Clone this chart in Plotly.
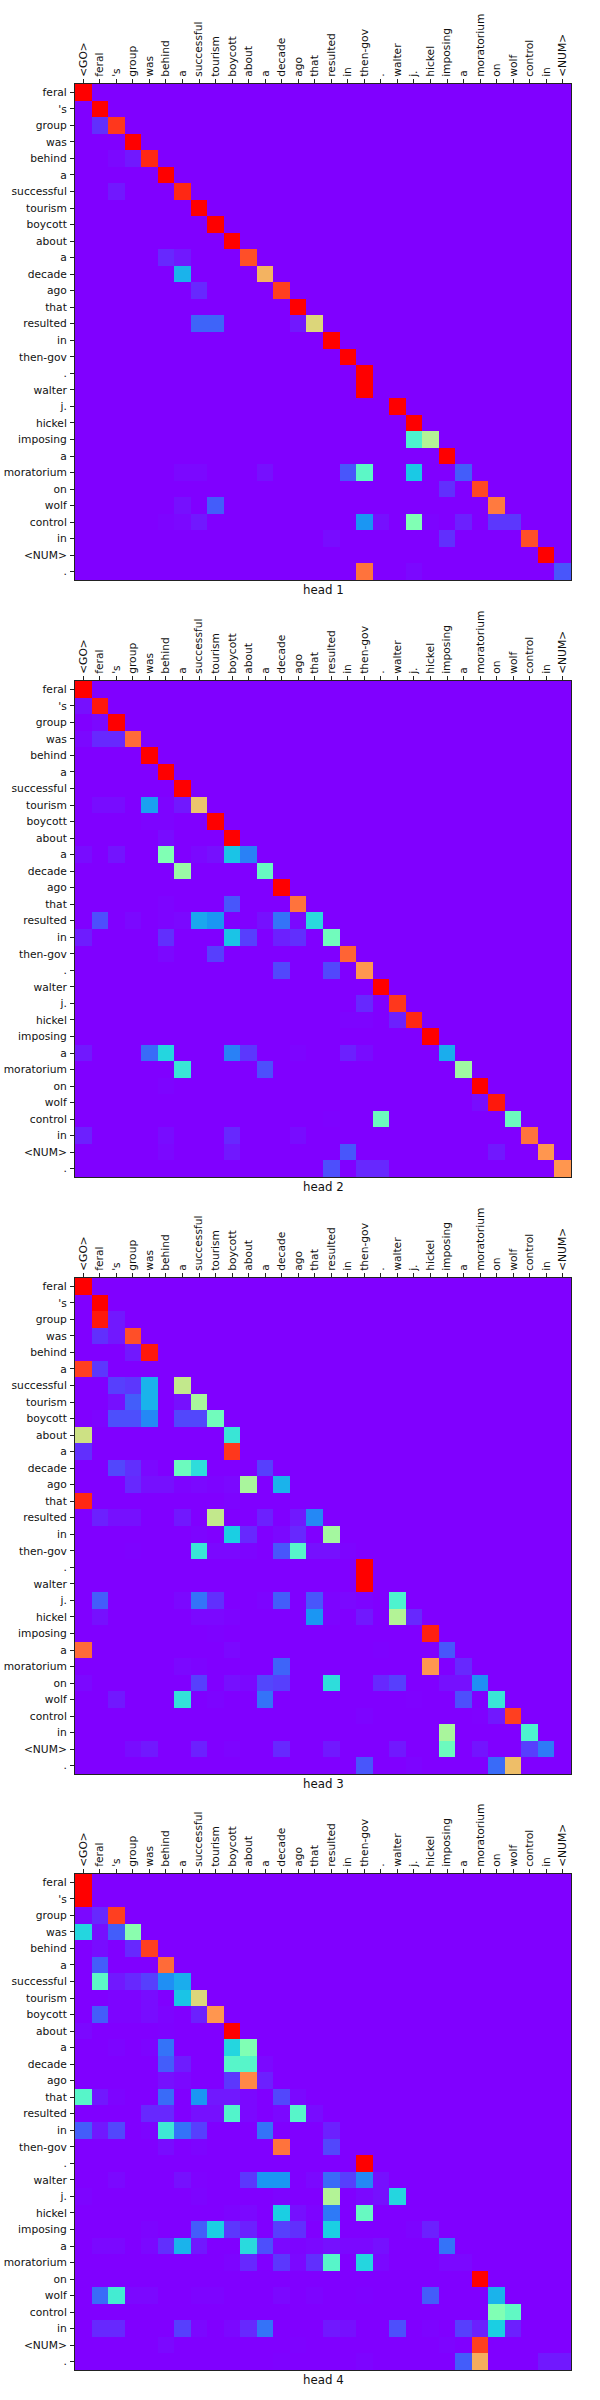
import plotly.graph_objects as go

source_tokens = ["<GO>", "feral", "'s", "group", "was", "behind", "a", "successful", "tourism", "boycott",
                 "about", "a", "decade", "ago", "that", "resulted", "in", "then-gov", ".", "walter",
                 "j.", "hickel", "imposing", "a", "moratorium", "on", "wolf", "control", "in", "<NUM>"]
target_tokens = ["feral", "'s", "group", "was", "behind", "a", "successful", "tourism", "boycott", "about",
                 "a", "decade", "ago", "that", "resulted", "in", "then-gov", ".", "walter", "j.",
                 "hickel", "imposing", "a", "moratorium", "on", "wolf", "control", "in", "<NUM>", "."]

# attention weights: (row, col, weight), everything else is 0
head1_cells = [
    (0, 0, 1), (1, 1, 1), (2, 1, .06), (2, 2, .93), (3, 3, 1), (4, 2, .01), (4, 3, .03), (4, 4, .95),
    (5, 5, 1), (6, 2, .03), (6, 6, .95), (7, 7, 1), (8, 8, 1), (9, 9, 1),
    (10, 5, .05), (10, 6, .03), (10, 10, .9), (11, 6, .25), (11, 11, .75), (12, 7, .05), (12, 12, .92),
    (13, 13, 1), (14, 7, .13), (14, 8, .13), (14, 13, .03), (14, 14, .68), (15, 15, 1), (16, 16, 1),
    (17, 17, 1), (18, 17, 1), (19, 19, 1), (20, 20, 1), (21, 20, .4), (21, 21, .6), (22, 22, 1),
    (23, 6, .01), (23, 7, .01), (23, 11, .02), (23, 16, .11), (23, 17, .43), (23, 20, .29), (23, 23, .12),
    (24, 22, .06), (24, 24, .91), (25, 6, .02), (25, 8, .12), (25, 25, .84),
    (26, 5, .005), (26, 6, .01), (26, 7, .03), (26, 17, .2), (26, 18, .02), (26, 20, .5), (26, 21, .005),
    (26, 23, .04), (26, 25, .07), (26, 26, .07), (27, 15, .015), (27, 22, .06), (27, 27, .9),
    (28, 28, 1), (29, 17, .85), (29, 20, .01), (29, 29, .11),
]
head2_cells = [
    (0, 0, 1), (1, 0, .02), (1, 1, .97), (2, 1, .01), (2, 2, 1), (3, 0, .01), (3, 1, .05), (3, 2, .05),
    (3, 3, .86), (4, 4, 1), (5, 5, 1), (6, 6, 1), (7, 1, .015), (7, 2, .015), (7, 4, .22), (7, 5, .005),
    (7, 6, .03), (7, 7, .72), (8, 4, .005), (8, 5, .005), (8, 8, 1), (9, 5, .015), (9, 9, 1),
    (10, 0, .015), (10, 2, .025), (10, 5, .5), (10, 7, .01), (10, 8, .02), (10, 9, .28), (10, 10, .17),
    (11, 6, .55), (11, 11, .45), (12, 12, 1), (13, 5, .005), (13, 9, .11), (13, 13, .85),
    (14, 1, .1), (14, 3, .01), (14, 5, .005), (14, 6, .01), (14, 7, .23), (14, 8, .2), (14, 11, .02),
    (14, 12, .15), (14, 13, .01), (14, 14, .33), (15, 0, .035), (15, 5, .06), (15, 9, .28), (15, 10, .08),
    (15, 12, .04), (15, 13, .06), (15, 15, .47), (16, 5, .01), (16, 8, .08), (16, 16, .87),
    (17, 12, .09), (17, 15, .09), (17, 17, .8), (18, 18, 1), (19, 17, .05), (19, 19, .93),
    (20, 16, .005), (20, 17, .005), (20, 19, .04), (20, 20, .95), (21, 21, 1),
    (22, 0, .03), (22, 4, .14), (22, 5, .32), (22, 9, .17), (22, 10, .07), (22, 13, .005), (22, 16, .04),
    (22, 17, .015), (22, 22, .24), (23, 6, .36), (23, 11, .1), (23, 23, .56), (24, 5, .005), (24, 24, 1),
    (25, 24, .015), (25, 25, .97), (26, 15, .003), (26, 18, .46), (26, 26, .46),
    (27, 0, .04), (27, 5, .015), (27, 9, .05), (27, 13, .015), (27, 27, .85),
    (28, 5, .01), (28, 9, .03), (28, 16, .11), (28, 25, .03), (28, 28, .8),
    (29, 15, .1), (29, 17, .05), (29, 18, .05), (29, 29, .8),
]
head3_cells = [
    (0, 0, 1), (1, 1, 1), (2, 1, .97), (2, 2, .03), (3, 1, .06), (3, 2, .03), (3, 3, .9), (4, 3, .03),
    (4, 4, .97), (5, 0, .92), (5, 1, .07), (6, 2, .08), (6, 3, .07), (6, 4, .25), (6, 6, .63),
    (7, 2, .02), (7, 3, .12), (7, 4, .25), (7, 6, .02), (7, 7, .58),
    (8, 1, .005), (8, 2, .1), (8, 3, .1), (8, 4, .18), (8, 6, .09), (8, 7, .09), (8, 8, .47),
    (9, 0, .65), (9, 9, .36), (10, 0, .06), (10, 9, .93),
    (11, 2, .09), (11, 3, .06), (11, 4, .01), (11, 6, .46), (11, 7, .34), (11, 11, .08),
    (12, 3, .05), (12, 4, .02), (12, 5, .02), (12, 6, .005), (12, 7, .01), (12, 8, .005), (12, 9, .01),
    (12, 10, .58), (12, 12, .25), (13, 0, .95), (13, 9, .005),
    (14, 1, .04), (14, 2, .02), (14, 3, .02), (14, 6, .03), (14, 8, .63), (14, 11, .04), (14, 13, .03),
    (14, 14, .18), (15, 7, .005), (15, 9, .3), (15, 10, .05), (15, 12, .01), (15, 13, .05), (15, 15, .57),
    (16, 3, .003), (16, 7, .36), (16, 8, .01), (16, 9, .01), (16, 10, .005), (16, 12, .11), (16, 13, .42),
    (16, 14, .02), (16, 15, .02), (16, 16, .005), (17, 17, 1), (18, 17, 1),
    (19, 1, .12), (19, 6, .01), (19, 7, .15), (19, 8, .06), (19, 11, .005), (19, 12, .12), (19, 14, .11),
    (19, 15, .005), (19, 16, .01), (19, 17, .005), (19, 19, .4),
    (20, 1, .02), (20, 7, .01), (20, 8, .01), (20, 9, .005), (20, 14, .2), (20, 15, .005), (20, 17, .03),
    (20, 19, .6), (20, 20, .05), (21, 8, .003), (21, 21, .96), (22, 0, .86), (22, 9, .01), (22, 18, .003),
    (22, 22, .11), (23, 6, .01), (23, 7, .005), (23, 12, .13), (23, 21, .8), (23, 23, .05),
    (24, 0, .01), (24, 7, .08), (24, 9, .02), (24, 10, .01), (24, 11, .09), (24, 12, .08), (24, 15, .34),
    (24, 18, .05), (24, 19, .08), (24, 22, .02), (24, 23, .02), (24, 24, .19),
    (25, 2, .03), (25, 6, .35), (25, 8, .005), (25, 11, .15), (25, 20, .002), (25, 23, .1), (25, 25, .36),
    (26, 17, .005), (26, 24, .002), (26, 25, .03), (26, 26, .92), (27, 22, .58), (27, 27, .4),
    (28, 3, .015), (28, 4, .03), (28, 7, .04), (28, 9, .005), (28, 12, .05), (28, 15, .03), (28, 19, .03),
    (28, 22, .46), (28, 24, .025), (28, 27, .08), (28, 28, .16),
    (29, 17, .11), (29, 20, .005), (29, 25, .14), (29, 26, .73),
]
head4_cells = [
    (0, 0, 1), (1, 0, 1), (2, 0, .01), (2, 1, .05), (2, 2, .92), (3, 0, .32), (3, 1, .02), (3, 2, .12),
    (3, 3, .52), (4, 1, .015), (4, 3, .05), (4, 4, .92), (5, 1, .12), (5, 5, .86),
    (6, 1, .43), (6, 2, .03), (6, 3, .05), (6, 4, .08), (6, 5, .19), (6, 6, .24),
    (7, 2, .005), (7, 3, .005), (7, 4, .015), (7, 6, .28), (7, 7, .68),
    (8, 1, .12), (8, 2, .005), (8, 3, .005), (8, 4, .015), (8, 5, .005), (8, 7, .04), (8, 8, .8),
    (9, 0, .01), (9, 5, .003), (9, 9, 1), (10, 2, .005), (10, 4, .005), (10, 5, .15), (10, 9, .32),
    (10, 10, .5), (11, 5, .12), (11, 6, .035), (11, 9, .42), (11, 10, .42), (11, 11, .01),
    (12, 5, .02), (12, 6, .01), (12, 9, .07), (12, 10, .82), (12, 11, .04),
    (13, 0, .42), (13, 1, .03), (13, 2, .005), (13, 5, .14), (13, 7, .2), (13, 8, .03), (13, 9, .03),
    (13, 10, .01), (13, 12, .09), (13, 13, .01),
    (14, 4, .05), (14, 5, .05), (14, 7, .02), (14, 8, .02), (14, 9, .41), (14, 10, .01), (14, 12, .01),
    (14, 13, .42), (14, 14, .015),
    (15, 0, .12), (15, 1, .03), (15, 2, .09), (15, 4, .005), (15, 5, .37), (15, 6, .15), (15, 7, .08),
    (15, 11, .15), (15, 15, .04), (16, 5, .015), (16, 7, .005), (16, 12, .85), (16, 15, .09), (17, 17, 1),
    (18, 2, .01), (18, 6, .02), (18, 7, .002), (18, 10, .07), (18, 11, .2), (18, 12, .2), (18, 14, .01),
    (18, 15, .14), (18, 16, .08), (18, 17, .18), (18, 18, .02),
    (19, 0, .005), (19, 7, .005), (19, 12, .005), (19, 15, .6), (19, 17, .01), (19, 18, .02), (19, 19, .32),
    (20, 9, .005), (20, 10, .01), (20, 12, .3), (20, 13, .02), (20, 14, .005), (20, 15, .16), (20, 17, .45),
    (21, 4, .005), (21, 7, .12), (21, 8, .3), (21, 9, .07), (21, 10, .04), (21, 12, .08), (21, 13, .06),
    (21, 15, .3), (21, 20, .005), (21, 21, .04),
    (22, 1, .01), (22, 2, .01), (22, 4, .01), (22, 5, .06), (22, 6, .25), (22, 7, .03), (22, 10, .33),
    (22, 11, .1), (22, 12, .01), (22, 13, .005), (22, 14, .01), (22, 15, .02), (22, 16, .01), (22, 17, .01),
    (22, 18, .02), (22, 22, .15),
    (23, 9, .005), (23, 10, .05), (23, 12, .07), (23, 13, .01), (23, 14, .06), (23, 15, .42), (23, 17, .32),
    (23, 18, .01), (23, 22, .01), (23, 23, .01), (24, 24, 1),
    (25, 1, .14), (25, 2, .38), (25, 3, .01), (25, 4, .01), (25, 7, .005), (25, 8, .005), (25, 12, .01),
    (25, 14, .005), (25, 17, .003), (25, 21, .12), (25, 25, .25), (26, 25, .5), (26, 26, .44),
    (27, 1, .05), (27, 2, .05), (27, 6, .08), (27, 7, .01), (27, 9, .01), (27, 10, .05), (27, 11, .15),
    (27, 15, .03), (27, 16, .02), (27, 19, .1), (27, 21, .005), (27, 23, .08), (27, 24, .04), (27, 25, .3),
    (27, 26, .04), (28, 5, .01), (28, 13, .003), (28, 22, .005), (28, 24, .92),
    (29, 12, .003), (29, 17, .005), (29, 23, .12), (29, 24, .76), (29, 28, .03), (29, 29, .03),
]

heads = [head1_cells, head2_cells, head3_cells, head4_cells]
head_names = ["head 1", "head 2", "head 3", "head 4"]

# matplotlib's rainbow colormap
rainbow = [
    [0.0, "#8000ff"], [0.1, "#4d4ffc"], [0.2, "#1a96f3"], [0.3, "#1acfe3"], [0.4, "#4df3ce"], [0.5, "#80ffb4"],
    [0.6, "#b3f396"], [0.7, "#e6cf73"], [0.8, "#ff964f"], [0.9, "#ff4f28"], [1.0, "#ff0000"],
]

W, H = 600, 2400
left, right = 75, 571
tops = [84, 681, 1278, 1874]
side = 496
font = "DejaVu Sans"

fig = go.Figure()
layout = {}
for i, cells in enumerate(heads):
    z = [[0.0] * len(source_tokens) for _ in target_tokens]
    for r, c, v in cells:
        z[r][c] = v
    suffix = "" if i == 0 else str(i + 1)
    fig.add_trace(go.Heatmap(
        z=z, colorscale=rainbow, zmin=0, zmax=1, showscale=False,
        xaxis="x" + suffix, yaxis="y" + suffix,
    ))
    layout["xaxis" + suffix] = dict(
        domain=[left / W, right / W], anchor="y" + suffix, side="top", range=[-0.5, 29.5],
        tickmode="array", tickvals=list(range(len(source_tokens))), ticktext=source_tokens,
        tickangle=-90, ticks="outside", ticklen=4, tickwidth=1, tickcolor="#222",
        showline=True, linecolor="#222", linewidth=1, mirror=True, showgrid=False, zeroline=False,
        tickfont=dict(family=font, size=10.7, color="#111"),
    )
    layout["yaxis" + suffix] = dict(
        domain=[1 - (tops[i] + side) / H, 1 - tops[i] / H], anchor="x" + suffix, range=[29.5, -0.5],
        tickmode="array", tickvals=list(range(len(target_tokens))), ticktext=target_tokens,
        ticks="outside", ticklen=4, tickwidth=1, tickcolor="#222", ticklabelstandoff=1,
        showline=True, linecolor="#222", linewidth=1, mirror=True, showgrid=False, zeroline=False,
        tickfont=dict(family=font, size=10.7, color="#111"),
    )
    fig.add_annotation(
        text=head_names[i], xref="paper", yref="paper", x=(left + right) / 2 / W,
        y=1 - (tops[i] + side + 10) / H, xanchor="center", yanchor="middle", showarrow=False,
        font=dict(family=font, size=11.8, color="#111"),
    )

fig.update_layout(
    width=W, height=H, margin=dict(l=0, r=0, t=0, b=0),
    paper_bgcolor="white", plot_bgcolor="white", showlegend=False, **layout,
)

fig.write_html("out.html", config={"displayModeBar": False}, post_script="document.body.style.margin='0';")
